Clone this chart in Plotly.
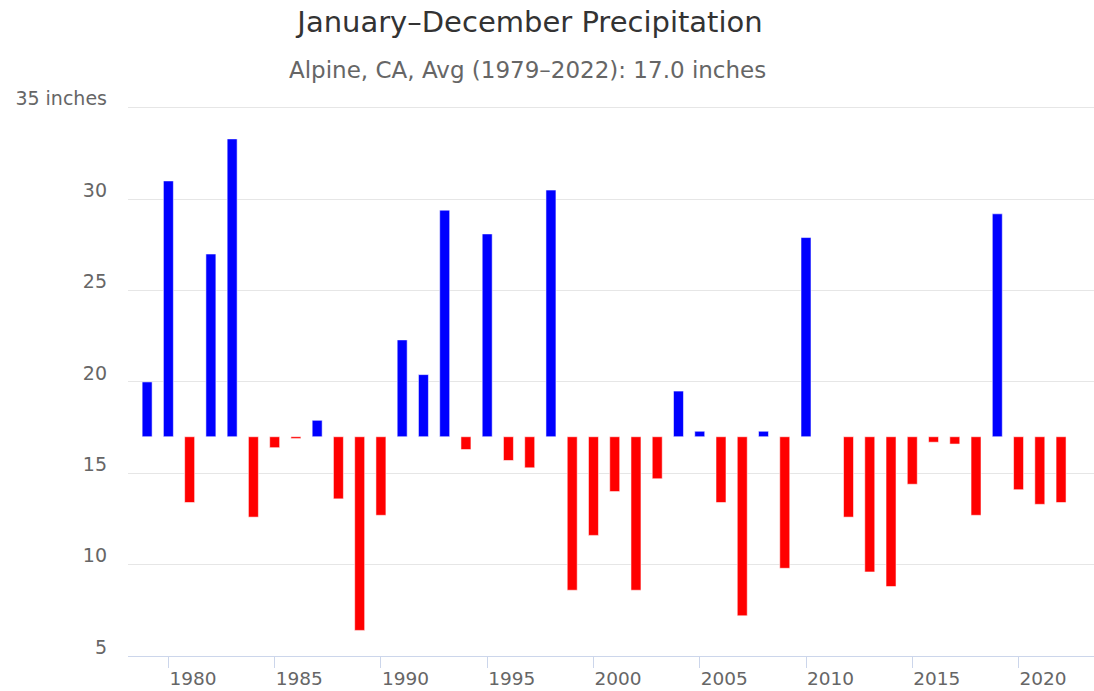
import plotly.graph_objects as go

years = list(range(1979, 2023))
precip = [
    20.0, 31.0, 13.4, 27.0, 33.3, 12.6, 16.4, 16.9, 17.9, 13.6,   # 1979-1988
    6.4, 12.7, 22.3, 20.4, 29.4, 16.3, 28.1, 15.7, 15.3, 30.5,    # 1989-1998
    8.6, 11.6, 14.0, 8.6, 14.7, 19.5, 17.3, 13.4, 7.2, 17.3,      # 1999-2008
    9.8, 27.9, None, 12.6, 9.6, 8.8, 14.4, 16.7, 16.6, 12.7,      # 2009-2018
    29.2, 14.1, 13.3, 13.4,                                       # 2019-2022
]
average = 17.0
title_text = "January–December Precipitation"
subtitle_text = "Alpine, CA, Avg (1979–2022): 17.0 inches"
x_ticks = [1980, 1985, 1990, 1995, 2000, 2005, 2010, 2015, 2020]
y_ticks = [5, 10, 15, 20, 25, 30, 35]
y_tick_labels = ["5", "10", "15", "20", "25", "30", "35 inches"]

diffs = [None if v is None else v - average for v in precip]
colors = ["#0000ff" if (v is not None and v >= average) else "#ff0000" for v in precip]

fig = go.Figure()
fig.add_trace(go.Bar(
    x=years,
    y=diffs,
    base=average,
    width=0.47,
    marker=dict(color=colors, line=dict(color="rgba(255,255,255,0.55)", width=1)),
    customdata=precip,
    hovertemplate="%{x}: %{customdata} in<extra></extra>",
))

font_family = "DejaVu Sans, Verdana, sans-serif"
T, B = 106, 35
plot_h = 691 - T - B

fig.update_layout(
    width=1094,
    height=691,
    paper_bgcolor="white",
    plot_bgcolor="white",
    showlegend=False,
    margin=dict(l=128, r=0, t=T, b=B, autoexpand=False),
    title=dict(
        text=title_text,
        x=530 / 1094,
        xref="container",
        xanchor="center",
        y=1 - 22 / 691,
        yref="container",
        yanchor="middle",
        font=dict(family=font_family, size=29, color="#333333"),
    ),
    annotations=[
        dict(
            text=subtitle_text,
            xref="paper", yref="paper",
            x=(527 - 128) / (1094 - 128),
            y=1 + (T - 70) / plot_h,
            xanchor="center", yanchor="middle",
            showarrow=False,
            font=dict(family=font_family, size=23, color="#666666"),
        )
    ],
    font=dict(family=font_family, color="#666666"),
)

fig.update_xaxes(
    range=[1978.1, 2023.55],
    automargin=False,
    tickmode="array",
    tickvals=x_ticks,
    ticktext=[str(t) for t in x_ticks],
    ticks="outside",
    ticklen=11,
    tickcolor="#ccd6eb",
    tickwidth=1,
    ticklabelposition="outside right",
    ticklabelstandoff=6,
    showline=True,
    linecolor="#ccd6eb",
    linewidth=1,
    showgrid=False,
    zeroline=False,
    tickfont=dict(family=font_family, size=18.5, color="#666666"),
)

fig.update_yaxes(
    range=[5, 35.1],
    automargin=False,
    tickmode="array",
    tickvals=y_ticks,
    ticktext=y_tick_labels,
    ticks="",
    ticklabelshift=-9,
    ticklabelstandoff=20,
    showline=False,
    showgrid=True,
    gridcolor="#e6e6e6",
    gridwidth=1,
    zeroline=False,
    tickfont=dict(family=font_family, size=19, color="#666666"),
)

fig.write_html(
    "out.html",
    config={"displayModeBar": False},
    post_script="document.body.style.margin='0';document.body.style.padding='0';",
)
